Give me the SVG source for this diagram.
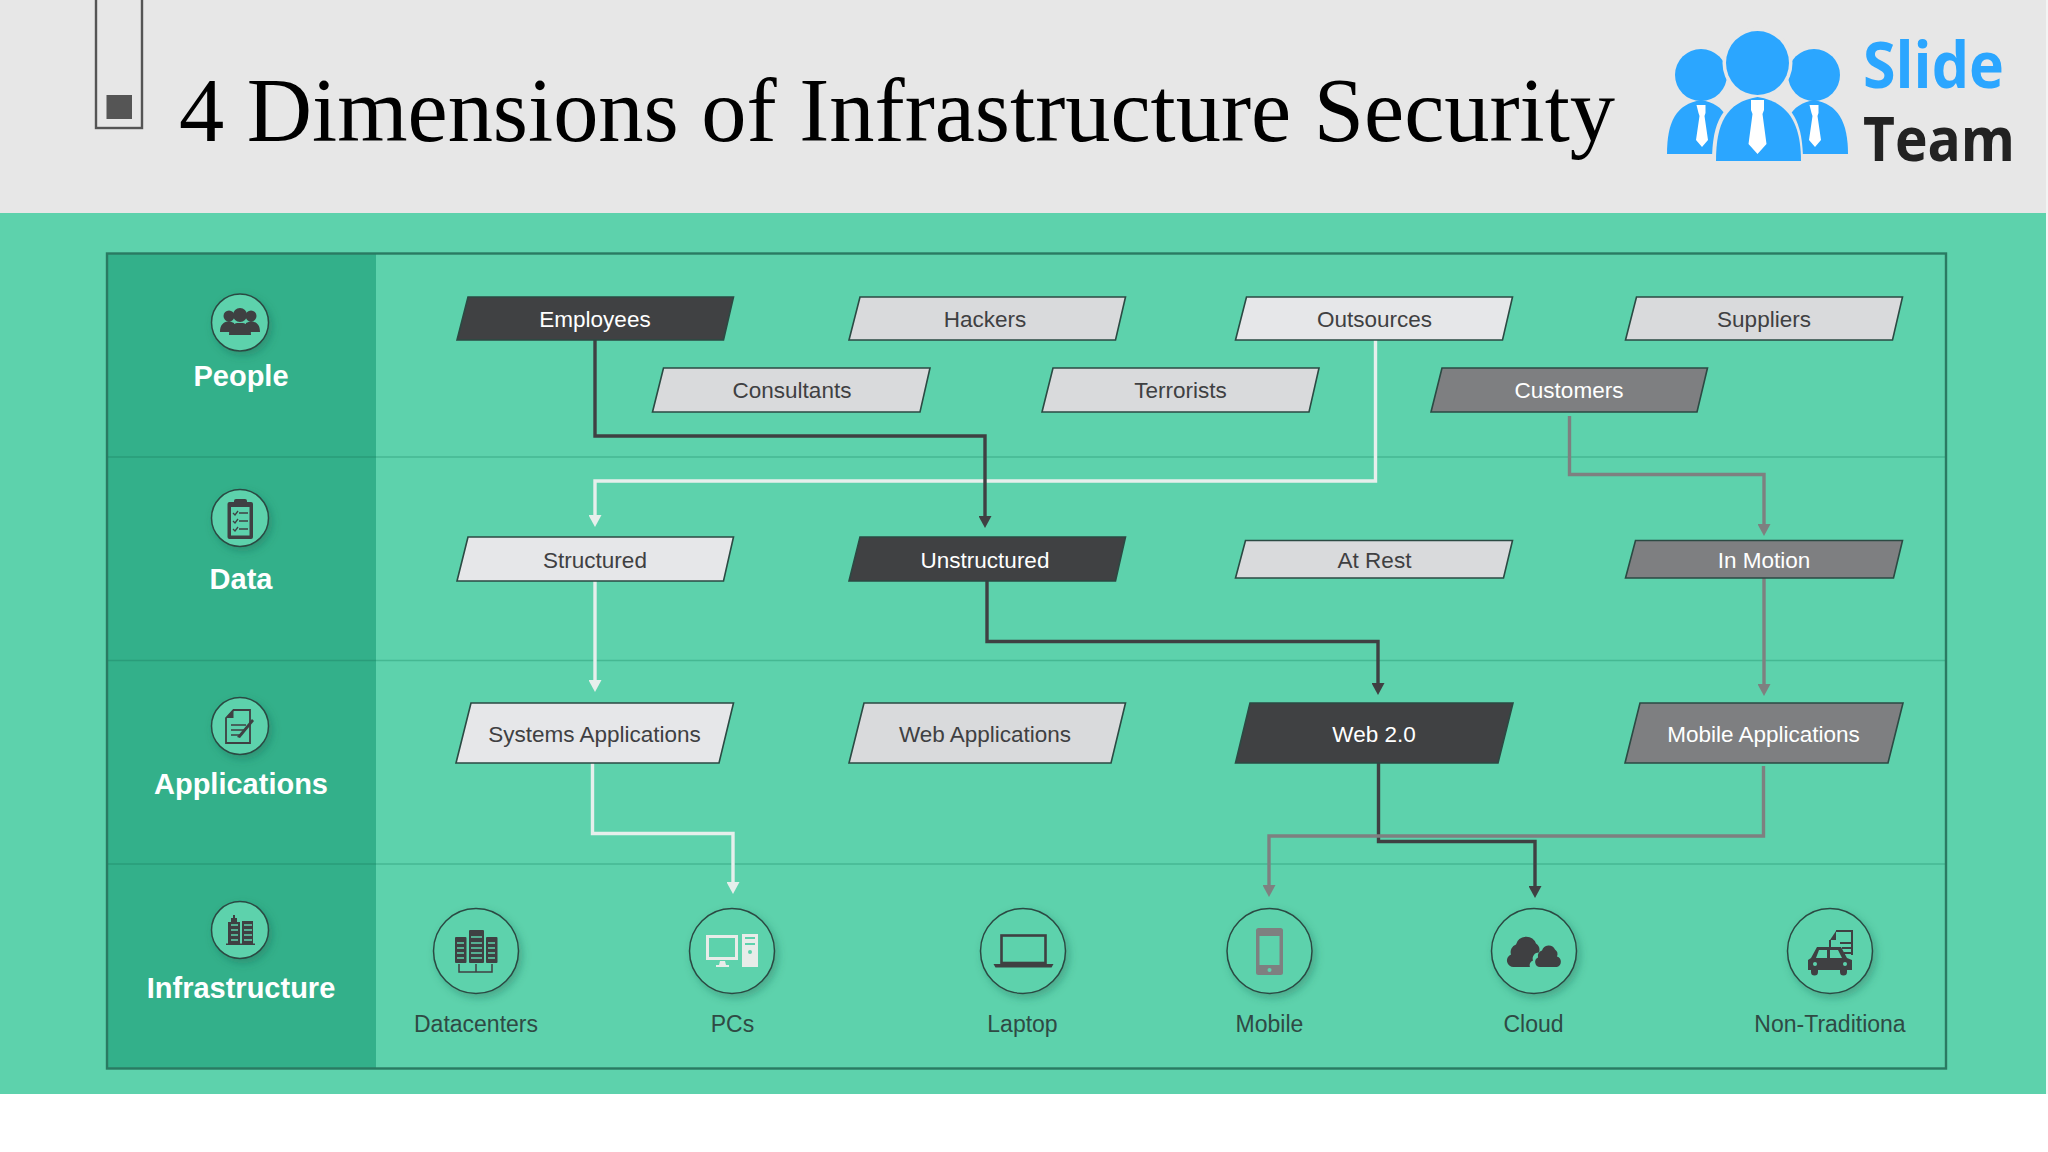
<svg xmlns="http://www.w3.org/2000/svg" width="2048" height="1152" viewBox="0 0 2048 1152">
<style>
.nt{font-family:"Liberation Sans",Arial,sans-serif;font-size:22.5px;text-anchor:middle}
.p{stroke:#2b4a43;stroke-width:1.6}
.lt{fill:#d9dadc}.lg{fill:#e6e7e9}.dk{fill:#404143}.gr{fill:#7e7f81}
.td{fill:#3f4042}.tw{fill:#fff}
.rl{font-family:"Liberation Sans",Arial,sans-serif;font-size:29px;font-weight:700;fill:#fff;text-anchor:middle}
.il{font-family:"Liberation Sans",Arial,sans-serif;font-size:23px;fill:#2f4a44;text-anchor:middle}
.c{fill:#5dd2ac;stroke:#2b4a43;stroke-width:1.5;filter:url(#sh)}
.ic{fill:#3f4042}.ig{fill:#5dd2ac}
.cn{fill:none;stroke-width:3.4}
</style>
<defs>
<filter id="sh" x="-30%" y="-30%" width="170%" height="170%"><feDropShadow dx="3" dy="4" stdDeviation="4" flood-color="#1c5a48" flood-opacity="0.35"/></filter>
<marker id="aL" markerUnits="userSpaceOnUse" markerWidth="12" markerHeight="13" refX="4" refY="6.5" orient="auto"><path d="M0 0L12 6.5L0 13z" fill="#e6efec"/></marker>
<marker id="aD" markerUnits="userSpaceOnUse" markerWidth="12" markerHeight="13" refX="4" refY="6.5" orient="auto"><path d="M0 0L12 6.5L0 13z" fill="#3f4042"/></marker>
<marker id="aG" markerUnits="userSpaceOnUse" markerWidth="12" markerHeight="13" refX="4" refY="6.5" orient="auto"><path d="M0 0L12 6.5L0 13z" fill="#7e8080"/></marker>
</defs>
<rect width="2048" height="1152" fill="#fff"/>
<rect id="header" width="2048" height="213" fill="#e7e7e7"/>
<rect id="band" y="213" width="2048" height="881" fill="#5dd2ac"/>
<rect x="2046" width="2" height="1094" fill="#f4f4f4"/>
<g id="title-mark"><rect x="96" y="-3" width="46" height="131" fill="none" stroke="#555" stroke-width="2.4"/><rect x="106.500" y="95" width="25.500" height="24" fill="#555"/></g>
<text id="title" x="179" y="141" font-family="'Liberation Serif','Times New Roman',serif" font-size="90" fill="#000" textLength="1436" lengthAdjust="spacingAndGlyphs">4 Dimensions of Infrastructure Security</text>
<g id="logo">
<g fill="#2ba6ff">
<ellipse cx="1701" cy="75" rx="26" ry="26"/><ellipse cx="1814" cy="75" rx="26" ry="26"/>
<path d="M1667 154C1667 122 1676 104 1701 100C1726 104 1733 122 1733 154z"/>
<path d="M1782 154C1782 122 1790 104 1814 100C1838 104 1848 122 1848 154z"/>
</g>
<g fill="#e7e7e7"><ellipse cx="1757.500" cy="63" rx="35" ry="36"/><path d="M1712 162C1712 122 1722 100 1757.500 94C1793 100 1803 122 1803 162z"/></g>
<g fill="#2ba6ff"><ellipse cx="1757.500" cy="63" rx="31.500" ry="32"/><path d="M1716 161C1716 124 1726 102 1757.500 97C1789 102 1801 124 1801 161z"/></g>
<g fill="#fff">
<path d="M1751 100h13v10l-1.500 4l4 30l-9 10l-9-10l4-30l-1.500-4z"/>
<path d="M1696.500 105h9v8l-1 3l3.500 24l-6 7l-6-7l3.500-24l-1-3z"/>
<path d="M1809.500 105h9v8l-1 3l3.500 24l-6 7l-6-7l3.500-24l-1-3z"/>
</g>
<text x="1863" y="88" font-family="'Open Sans',sans-serif" font-weight="700" font-size="65" fill="#2ba6ff" textLength="141" lengthAdjust="spacingAndGlyphs">Slide</text>
<text x="1863" y="160.500" font-family="'Open Sans',sans-serif" font-weight="700" font-size="60" fill="#222" textLength="152" lengthAdjust="spacingAndGlyphs">Team</text>
</g>
<g id="grid">
<rect x="107" y="254" width="269" height="814" fill="#33b08a"/>
<path d="M107 457H376M107 660.500H376M107 864H376" stroke="#2a9c7a" stroke-width="1.500" fill="none"/>
<path d="M376 457H1945M376 660.500H1945M376 864H1945" stroke="#45b892" stroke-width="1.500" fill="none"/>
<rect x="107" y="253.500" width="1839" height="815" fill="none" stroke="#2a7a62" stroke-width="2.400"/>
</g>
<g id="connectors">
<path class="cn" stroke="#e6efec" marker-end="url(#aL)" d="M1375.500 340V481H595V519"/>
<path class="cn" stroke="#e6efec" marker-end="url(#aL)" d="M595 581V684"/>
<path class="cn" stroke="#e6efec" marker-end="url(#aL)" d="M592.500 763V833.500H733V886"/>
<path class="cn" stroke="#3f4042" marker-end="url(#aD)" d="M595 340V436H985V520"/>
<path class="cn" stroke="#3f4042" marker-end="url(#aD)" d="M987 581V641.500H1378V687"/>
<path class="cn" stroke="#3f4042" marker-end="url(#aD)" d="M1378.500 763V841.500H1535V890"/>
<path class="cn" stroke="#7e8080" marker-end="url(#aG)" d="M1569.500 416V474.500H1764V528"/>
<path class="cn" stroke="#7e8080" marker-end="url(#aG)" d="M1764 578V688"/>
<path class="cn" stroke="#7e8080" marker-end="url(#aG)" d="M1763.500 766V836H1269V889"/>
</g>
<g id="n-employees"><path class="p dk" d="M457 340L468 297H733.500L723.500 340z"/><text class="nt tw" x="595" y="327">Employees</text></g>
<g id="n-hackers"><path class="p lt" d="M849 340L860 297H1125.500L1115.500 340z"/><text class="nt td" x="985" y="327">Hackers</text></g>
<g id="n-outsources"><path class="p lg" d="M1235.500 340L1246.500 297H1512.500L1502.500 340z"/><text class="nt td" x="1374.500" y="327">Outsources</text></g>
<g id="n-suppliers"><path class="p lt" d="M1625.500 340L1636.500 297H1902.500L1892.500 340z"/><text class="nt td" x="1764" y="327">Suppliers</text></g>
<g id="n-consultants"><path class="p lt" d="M652.500 412L663.500 368H930L920 412z"/><text class="nt td" x="792" y="398">Consultants</text></g>
<g id="n-terrorists"><path class="p lt" d="M1042 412L1053 368H1319L1309 412z"/><text class="nt td" x="1180.500" y="398">Terrorists</text></g>
<g id="n-customers"><path class="p gr" d="M1431 412L1442 368H1707.500L1697 412z"/><text class="nt tw" x="1569" y="398">Customers</text></g>
<g id="n-structured"><path class="p lg" d="M457 581L468 537H733.500L723.500 581z"/><text class="nt td" x="595" y="568">Structured</text></g>
<g id="n-unstructured"><path class="p dk" d="M849 581L860 537H1125.500L1115.500 581z"/><text class="nt tw" x="985" y="568">Unstructured</text></g>
<g id="n-atrest"><path class="p lt" d="M1235.500 578L1245.500 540.500H1512.500L1503.500 578z"/><text class="nt td" x="1374.500" y="568">At Rest</text></g>
<g id="n-inmotion"><path class="p gr" d="M1625.500 578L1635.500 540.500H1902.500L1893.500 578z"/><text class="nt tw" x="1764" y="568">In Motion</text></g>
<g id="n-systems"><path class="p lg" d="M456 763L471 703H733.500L719 763z"/><text class="nt td" x="594.500" y="741.500">Systems Applications</text></g>
<g id="n-webapps"><path class="p lt" d="M849 763L864 703H1125.500L1111 763z"/><text class="nt td" x="985" y="741.500">Web Applications</text></g>
<g id="n-web20"><path class="p dk" d="M1235.500 763L1250 703H1513L1498 763z"/><text class="nt tw" x="1374" y="741.500">Web 2.0</text></g>
<g id="n-mobileapps"><path class="p gr" d="M1625 763L1640 703H1903L1888 763z"/><text class="nt tw" x="1763.500" y="741.500">Mobile Applications</text></g>
<g id="r-people"><circle class="c" cx="240" cy="322.500" r="28.500"/>
<g class="ic"><circle cx="229" cy="316" r="5.500"/><circle cx="251" cy="316" r="5.500"/><path d="M220 332c0-8 4-10 9-11l5 2v9zM260 332c0-8-4-10-9-11l-5 2v9z"/><circle cx="240" cy="315" r="7"/><path d="M229 335c0-8 3-11 8-12h6c5 1 8 4 8 12z"/></g>
<text class="rl" x="241" y="386">People</text></g>
<g id="r-data"><circle class="c" cx="240" cy="518" r="28.500"/>
<rect class="ic" x="227.500" y="502" width="25.500" height="37" rx="2"/><rect class="ic" x="234" y="499" width="13" height="6" rx="2"/><rect class="ig" x="231" y="507" width="18.500" height="28.500"/>
<path d="M233 513l2 2l3-4M239 513h9M233 521l2 2l3-4M239 521h9M233 529l2 2l3-4M239 529h9" stroke="#3f4042" stroke-width="1.300" fill="none"/>
<text class="rl" x="241" y="589">Data</text></g>
<g id="r-applications"><circle class="c" cx="240" cy="726" r="28.500"/>
<path d="M233.500 710H250V743H226V718z" fill="none" stroke="#3f4042" stroke-width="1.800"/><path d="M233.500 710V718H226z" fill="#3f4042"/>
<path d="M231 725H246M231 730H244M231 735H240" stroke="#3f4042" stroke-width="1.500"/><path d="M237 737L252 719l2 2L240 738z" fill="#3f4042"/>
<text class="rl" x="241" y="794">Applications</text></g>
<g id="r-infrastructure"><circle class="c" cx="240" cy="930" r="28.500"/>
<path class="ic" d="M226 945v-1.500h2V922h3v-4h2v-3h2v3h2v4h3v21.500h2V921h11v22.500h2V945z"/>
<path d="M231 925h7M231 930h7M231 935h7M231 940h7M244 925h8M244 930h8M244 935h8M244 940h8" stroke="#5dd2ac" stroke-width="1.300"/>
<text class="rl" x="241" y="998">Infrastructure</text></g>
<g id="i-datacenters"><circle class="c" cx="476" cy="951" r="42.500"/>
<rect class="ic" x="455" y="937" width="11.500" height="26" rx="1"/><rect class="ic" x="469" y="930" width="15" height="33" rx="1"/><rect class="ic" x="486" y="937" width="11.500" height="26" rx="1"/>
<path d="M457 943h7M457 948h7M457 953h7M457 958h7M471 937h11M471 943h11M471 948h11M471 953h11M471 958h11M488 943h7M488 948h7M488 953h7M488 958h7" stroke="#5dd2ac" stroke-width="1.300"/>
<path d="M459 964v8h33v-8M476 964v8" stroke="#3f4042" stroke-width="1.500" fill="none"/>
<text class="il" x="476" y="1031.500">Datacenters</text></g>
<g id="i-pcs"><circle class="c" cx="732" cy="951" r="42.500"/>
<path d="M706 935h32v25h-32zM709 938v19h26v-19z" fill="#e8ece9" fill-rule="evenodd"/><path d="M720 961h5l1 4h3v2h-13v-2h3z" fill="#e8ece9"/>
<rect x="742" y="934" width="16" height="33" fill="#e8ece9"/><path d="M745 938h10M745 944h10" stroke="#5dd2ac" stroke-width="2"/><circle cx="750" cy="952" r="2" fill="#5dd2ac"/>
<text class="il" x="732.500" y="1031.500">PCs</text></g>
<g id="i-laptop"><circle class="c" cx="1023" cy="951" r="42.500"/>
<rect x="1001.500" y="935.500" width="44" height="27.500" fill="none" stroke="#3f4042" stroke-width="2.600"/><path class="ic" d="M993.500 964h60l-2 3.500h-56z"/>
<text class="il" x="1022.500" y="1031.500">Laptop</text></g>
<g id="i-mobile"><circle class="c" cx="1269.500" cy="951" r="42.500"/>
<rect x="1256" y="928" width="27" height="47" rx="2.500" fill="#7e8080"/><rect class="ig" x="1259.500" y="936" width="20" height="29"/><circle cx="1269.500" cy="970" r="2" fill="#5dd2ac"/>
<text class="il" x="1269.500" y="1031.500">Mobile</text></g>
<g id="i-cloud"><circle class="c" cx="1534" cy="951" r="42.500"/>
<path class="ic" d="M1514 967a6.500 6.500 0 0 1-3-12.500a8 8 0 0 1 5-10a10.500 10.500 0 0 1 20-1a8 8 0 0 1 3 9a6 6 0 0 0-6 8a5 5 0 0 0-3 6.500z"/>
<path class="ic" d="M1540 967a5 5 0 0 1-2-9.500a5.500 5.500 0 0 1 4-7a7 7 0 0 1 13-1a6 6 0 0 1 2 7a5.500 5.500 0 0 1 0 10.500z"/>
<text class="il" x="1533.500" y="1031.500">Cloud</text></g>
<g id="i-nontraditional"><circle class="c" cx="1830" cy="951" r="42.500"/>
<path d="M1836 931h16v24" fill="none" stroke="#3f4042" stroke-width="2"/><path class="ic" d="M1836 931v9h-6z"/><path d="M1830 940v8M1840 943h12M1842 948h10M1844 953h8" stroke="#3f4042" stroke-width="2"/>
<path class="ic" d="M1817 947h24l6 11l5 2v10h-5v2a3.500 3.500 0 0 1-7 0v-2h-22v2a3.500 3.500 0 0 1-7 0v-2h-3v-10l3-2z"/>
<path class="ig" d="M1819 950h8v8h-11zM1830 950h8l4 8h-12z"/><circle class="ig" cx="1815" cy="964" r="2"/><circle class="ig" cx="1845" cy="964" r="2"/>
<text class="il" x="1830" y="1031.500">Non-Traditiona</text></g>
</svg>
